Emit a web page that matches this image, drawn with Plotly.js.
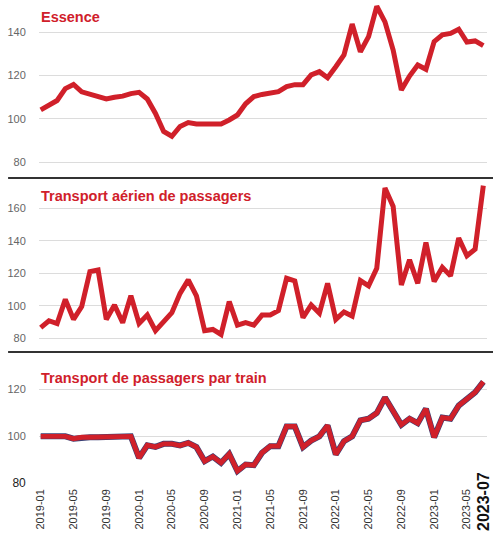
<!DOCTYPE html>
<html>
<head>
<meta charset="utf-8">
<script src="https://cdn.plot.ly/plotly-3.0.1.min.js"></script>
<style>html,body{margin:0;padding:0;background:#fff}#chart{width:493px;height:533px}</style>
</head>
<body>
<div id="chart"></div>
<script>
// Monthly categories 2019-01 .. 2023-07
const months = [];
for (let y = 2019; y <= 2023; y++) {
  for (let m = 1; m <= 12; m++) {
    if (y === 2023 && m > 7) break;
    months.push(y + '-' + String(m).padStart(2, '0'));
  }
}
const essence = [104.2,106.5,108.5,114,115.9,112.5,111.3,110,109.2,110,
  110.5,111.7,112.3,109.2,102.5,94.2,92.0,96.5,98.3,97.7,
  97.7,97.7,97.7,99.5,101.8,107,110.3,111.3,111.8,112.6,
  114.9,115.8,115.8,120.3,121.8,119.0,124.1,129.5,143.8,131,
  138,152,144.8,131.8,113.4,119.8,124.9,122.9,135.7,138.8,
  139.5,141.4,135.5,136,133.8];
const aerien = [86.4,90.7,88.9,103.9,91.5,99.4,121,122,91.5,100.4,
  89.5,106.2,89,94.2,84.5,90.1,95.7,107.6,115.9,106,
  84.5,85.3,82.2,102.5,88,89.5,88,94.2,94.2,96.9,
  116.9,115.3,92.6,100.4,95.3,113.8,91.5,96.1,93.6,115.5,
  112.2,123.1,172.7,161.3,112.8,128.3,113.8,139,114.9,123.7,
  118.4,141.7,130.8,134.9,174.1];
const train = [100,100,100,100,99,99.6,99.6,99.6,99.6,99.6,
  99.6,100,90.8,96.2,95.5,96.8,96.8,96.1,97.2,95.4,
  89.4,91.4,88.7,92.5,85.2,88,87.7,93,95.8,95.8,
  104.2,104.2,95.4,98.2,100,104.6,92.3,97.9,100,106.8,
  107.5,109.9,116.5,110.6,104.9,107.5,105.6,111.7,99.6,108,
  107.5,113.1,116.2,118.7,123.2];
const titles = ['Essence', 'Transport aérien de passagers', 'Transport de passagers par train'];
const xTickVals = ['2019-01','2019-05','2019-09','2020-01','2020-05','2020-09','2021-01','2021-05','2021-09','2022-01','2022-05','2022-09','2023-01','2023-05'];
const lastMonth = '2023-07';

const RED = '#d0202a';
const FONT = '"Liberation Sans", Arial, sans-serif';

const traces = [
  {x: months, y: essence, xaxis: 'x', yaxis: 'y', mode: 'lines', line: {color: RED, width: 5}},
  {x: months, y: aerien, xaxis: 'x', yaxis: 'y2', mode: 'lines', line: {color: RED, width: 5}},
  {x: months, y: train, xaxis: 'x', yaxis: 'y3', mode: 'lines', line: {color: '#3b3f73', width: 6}},
  {x: months, y: train, xaxis: 'x', yaxis: 'y3', mode: 'lines', line: {color: RED, width: 4.8}},
  {x: months, y: train, xaxis: 'x', yaxis: 'y4', mode: 'lines', line: {color: 'rgba(0,0,0,0)', width: 0}, hoverinfo: 'skip'}
];

const yCommon = {
  showline: false, zeroline: false, gridcolor: '#dcdcdc', gridwidth: 1,
  ticks: 'outside', ticklen: 10, tickcolor: 'rgba(0,0,0,0)',
  tickfont: {family: FONT, size: 11, color: '#666'}, fixedrange: true
};

const layout = {
  width: 493, height: 533,
  margin: {l: 39, r: 6, t: 0, b: 47},
  paper_bgcolor: '#fff', plot_bgcolor: '#fff',
  showlegend: false,
  xaxis: {
    type: 'category', anchor: 'y3', range: [-0.21, 54.45],
    tickmode: 'array', tickvals: xTickVals, ticktext: xTickVals,
    tickangle: -90, showgrid: false, showline: false, zeroline: false,
    ticks: '', tickfont: {family: FONT, size: 11, color: '#333'}
  },
  yaxis: Object.assign({}, yCommon, {domain: [0.6584, 1], range: [78.25, 154.9], tickvals: [80, 100, 120, 140]}),
  yaxis2: Object.assign({}, yCommon, {domain: [0.2901, 0.6296], range: [75.7, 177.6], tickvals: [80, 100, 120, 140, 160]}),
  yaxis3: Object.assign({}, yCommon, {domain: [0, 0.2593], range: [78.85, 132.5], showgrid: false,
    tickvals: [80, 100, 120], ticktext: ['<span style="color:#222;font-size:12px">80</span>', '100', '120']}),
  yaxis4: Object.assign({}, yCommon, {domain: [0, 0.2593], range: [78.85, 132.5], overlaying: 'y3',
    tickvals: [100, 120], showticklabels: false, ticks: ''}),
  shapes: [
    {type: 'line', xref: 'paper', yref: 'paper', x0: -0.069, x1: 1.02, y0: 0.6337, y1: 0.6337, line: {color: '#333', width: 2}},
    {type: 'line', xref: 'paper', yref: 'paper', x0: -0.069, x1: 1.02, y0: 0.2757, y1: 0.2757, line: {color: '#333', width: 2}}
  ],
  annotations: [
    {text: '<b>' + titles[0] + '</b>', xref: 'paper', yref: 'paper', x: 0, y: 0.965, xanchor: 'left', yanchor: 'middle', showarrow: false, font: {family: FONT, size: 14.5, color: RED}},
    {text: '<b>' + titles[1] + '</b>', xref: 'paper', yref: 'paper', x: 0, y: 0.5957, xanchor: 'left', yanchor: 'middle', showarrow: false, font: {family: FONT, size: 14.5, color: RED}},
    {text: '<b>' + titles[2] + '</b>', xref: 'paper', yref: 'paper', x: 0, y: 0.2222, xanchor: 'left', yanchor: 'middle', showarrow: false, font: {family: FONT, size: 14.5, color: RED}},
    {text: '<b>' + lastMonth + '</b>', xref: 'x', yref: 'paper', x: lastMonth, y: -0.095, xanchor: 'center', yanchor: 'bottom',
     textangle: -90, showarrow: false, borderpad: 0, font: {family: FONT, size: 16, color: '#111'}}
  ]
};

Plotly.newPlot('chart', traces, layout, {displayModeBar: false, staticPlot: true});
</script>
</body>
</html>
